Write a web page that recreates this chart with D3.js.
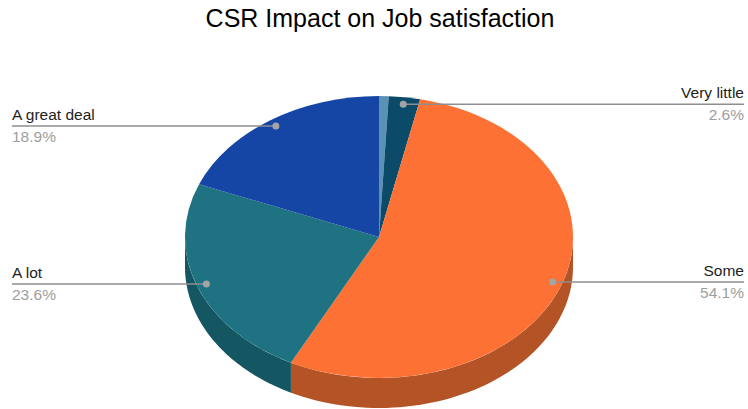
<!DOCTYPE html>
<html>
<head>
<meta charset="utf-8">
<script src="https://cdn.jsdelivr.net/npm/d3@7"></script>
<style>
  html, body { margin: 0; padding: 0; background: #fff; }
  svg { display: block; font-family: Arial, "Liberation Sans", sans-serif; }
</style>
</head>
<body>
<svg id="chart" width="748" height="409"></svg>
<script>
// Survey answers and their shares (%)
const categories = ["Not at all", "Very little", "Some", "A lot", "A great deal"];
const values = [0.8, 2.6, 54.1, 23.6, 18.9];
const topColors = ["#5a92b6", "#0c4a69", "#fd7134", "#1e7282", "#1546a6"];
const sideColors = ["#3f6781", "#08344a", "#b45426", "#155663", "#0f3176"];
const showLabel = [false, true, true, true, true];

const W = 748, H = 409;
const cx = 379, cy = 237, rx = 194, ry = 141, depth = 30;

const svg = d3.select("#chart");

svg.append("text")
  .attr("x", 380).attr("y", 27)
  .attr("text-anchor", "middle")
  .attr("font-size", 25)
  .attr("fill", "#000")
  .text("CSR Impact on Job satisfaction");

const pie = d3.pie().sort(null).value(d => d)(values);

// angle measured clockwise from 12 o'clock
const ex = (a, r = 1) => cx + rx * r * Math.sin(a);
const ey = (a, r = 1) => cy - ry * r * Math.cos(a);

// outer walls: only the front half (angles PI/2 .. 3PI/2) is visible
const wallG = svg.append("g");
pie.forEach((p, i) => {
  const a0 = Math.max(p.startAngle, Math.PI / 2);
  const a1 = Math.min(p.endAngle, 3 * Math.PI / 2);
  if (a1 <= a0) return;
  const n = 60;
  const angs = d3.range(n + 1).map(k => a0 + (a1 - a0) * k / n);
  const pts = angs.map(a => [ex(a), ey(a)])
    .concat(angs.slice().reverse().map(a => [ex(a), ey(a) + depth]));
  wallG.append("path")
    .attr("d", d3.line()(pts) + "Z")
    .attr("fill", sideColors[i]);
});

// top faces: circular arcs squashed into an ellipse
const arc = d3.arc().innerRadius(0).outerRadius(rx);
svg.append("g")
  .attr("transform", `translate(${cx},${cy}) scale(1,${ry / rx})`)
  .selectAll("path")
  .data(pie)
  .join("path")
  .attr("d", arc)
  .attr("fill", (d, i) => topColors[i]);

// leader lines and labels
const lab = svg.append("g");
pie.forEach((p, i) => {
  if (!showLabel[i]) return;
  const mid = (p.startAngle + p.endAngle) / 2;
  const px = ex(mid, 0.95), py = ey(mid, 0.95);
  const right = mid < Math.PI;
  const tx = right ? 744 : 12;
  lab.append("line")
    .attr("x1", px).attr("y1", py).attr("x2", tx).attr("y2", py)
    .attr("stroke", "#8e8e8e").attr("stroke-width", 1.6);
  lab.append("circle")
    .attr("cx", px).attr("cy", py).attr("r", 3.5)
    .attr("fill", "#a4a4a4");
  lab.append("text")
    .attr("x", tx).attr("y", py - 6)
    .attr("text-anchor", right ? "end" : "start")
    .attr("font-size", 15.5).attr("fill", "#222")
    .text(categories[i]);
  lab.append("text")
    .attr("x", tx).attr("y", py + 16)
    .attr("text-anchor", right ? "end" : "start")
    .attr("font-size", 15.5).attr("fill", "#9e9e9e")
    .text(values[i].toFixed(1) + "%");
});
</script>
</body>
</html>
